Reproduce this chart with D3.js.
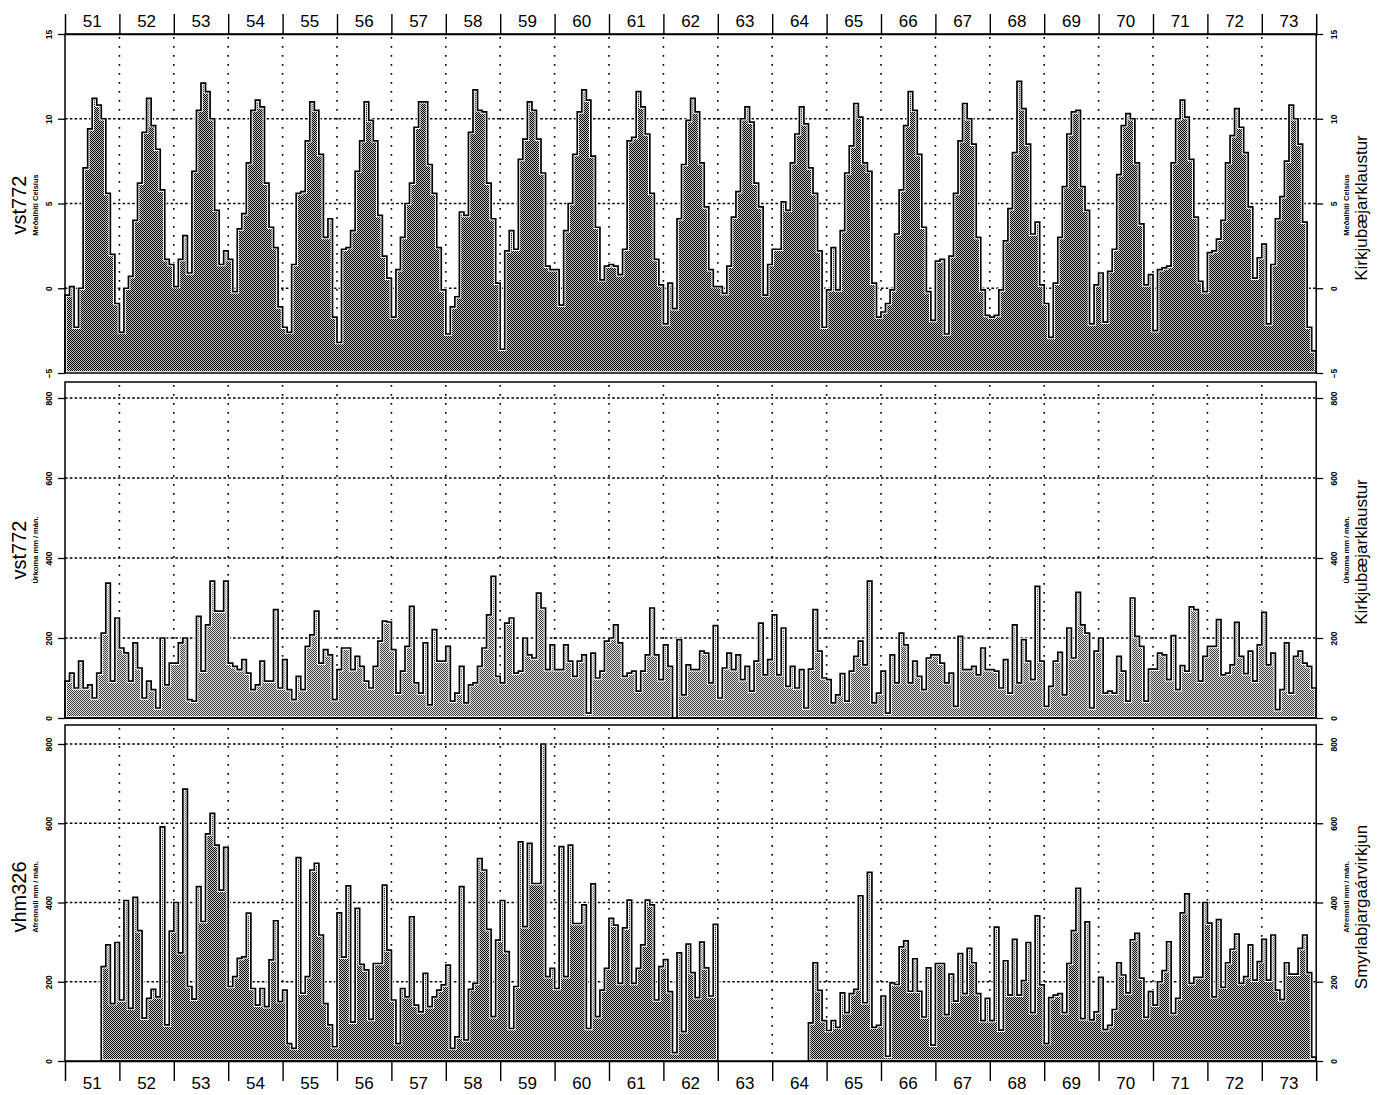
<!DOCTYPE html>
<html>
<head>
<meta charset="utf-8">
<script src="https://cdn.jsdelivr.net/npm/d3@7"></script>
<style>
body { margin: 0; background: #fff; }
svg { display: block; font-family: "Liberation Sans", Arial, Helvetica, sans-serif; }
</style>
</head>
<body>
<div id="chart"></div>
<script>
// year labels, 1951-1973
const yearLabels = d3.range(51, 74).map(String)

// monthly mean temperature, Kirkjubæjarklaustur (vst772), one row per year
const tempByYear = [
  [-0.4, 0.1, -2.3, 0.0, 7.1, 9.4, 11.2, 10.8, 10.0, 5.6, 2.0, -0.9],
  [-2.6, 0.0, 0.7, 4.0, 6.2, 9.2, 11.2, 9.6, 8.2, 5.8, 1.7, 1.4],
  [0.1, 1.7, 3.1, 0.9, 6.9, 10.5, 12.1, 11.6, 10.0, 4.6, 1.4, 2.2],
  [1.7, -0.2, 3.5, 4.4, 7.4, 10.5, 11.1, 10.7, 6.2, 3.6, 2.4, -1.1],
  [-2.3, -2.6, 1.4, 5.6, 5.7, 8.7, 11.0, 10.5, 7.9, 3.0, 4.1, -1.7],
  [-3.2, 2.3, 2.4, 3.4, 6.9, 8.7, 11.0, 9.9, 8.7, 4.3, 1.9, 0.6],
  [-1.7, 1.1, 3.0, 5.0, 6.2, 9.5, 11.0, 11.0, 7.3, 5.6, 2.4, -0.1],
  [-2.7, -1.1, -0.5, 4.5, 4.3, 9.2, 11.7, 10.5, 10.4, 6.2, 4.1, 0.3],
  [-3.6, 2.2, 3.4, 2.3, 7.6, 8.8, 11.0, 10.5, 8.8, 6.8, 1.3, 1.1],
  [1.1, -1.0, 3.4, 5.0, 7.9, 10.4, 11.7, 11.1, 7.8, 3.6, 0.5, 1.3],
  [1.4, 1.3, 0.8, 2.3, 8.7, 8.9, 11.6, 10.7, 9.1, 5.6, 1.7, 0.2],
  [-2.1, 0.3, -1.2, 4.1, 7.3, 9.9, 11.2, 10.4, 7.4, 4.8, 1.1, 0.1],
  [0.1, -0.3, 1.3, 4.2, 5.7, 10.0, 10.7, 9.8, 6.2, 4.8, -0.4, 1.4],
  [2.3, 2.3, 5.1, 4.6, 7.4, 9.1, 10.7, 9.7, 7.1, 5.6, 2.2, -2.3],
  [-0.1, 2.4, -0.1, 3.4, 6.8, 8.4, 10.9, 10.1, 7.4, 6.9, 0.3, -1.7],
  [-1.4, -0.9, -0.1, 3.2, 5.8, 9.6, 11.6, 10.5, 7.9, 3.6, -0.2, -1.9],
  [1.6, 1.7, -2.7, 1.9, 5.6, 8.7, 10.9, 10.0, 8.5, 3.0, -0.1, -1.6],
  [-1.7, -1.6, -0.1, 2.8, 4.7, 8.0, 12.2, 10.6, 8.5, 3.2, 3.9, 0.2],
  [-0.9, -2.9, 0.3, 3.0, 6.0, 9.1, 10.4, 10.5, 6.0, 4.6, -2.1, 0.2],
  [0.9, -2.0, 1.0, 2.3, 6.7, 9.6, 10.3, 10.0, 7.4, 3.8, 0.2, 0.8],
  [-2.5, 1.1, 1.2, 1.3, 7.4, 10.0, 11.1, 10.1, 7.6, 4.2, 0.4, -0.2],
  [2.1, 2.2, 2.9, 4.0, 7.4, 9.0, 10.6, 9.5, 8.0, 4.8, 0.6, 1.8],
  [2.6, -2.1, 1.4, 4.1, 5.4, 7.5, 10.8, 10.0, 8.5, 3.9, -2.3, -3.7]
]

// monthly precipitation mm, Kirkjubæjarklaustur (vst772)
const precipByYear = [
  [92, 112, 75, 142, 75, 83, 50, 112, 212, 337, 92, 250],
  [175, 163, 92, 188, 125, 50, 92, 71, 25, 200, 83, 137],
  [137, 188, 200, 46, 42, 254, 117, 233, 342, 267, 267, 342],
  [137, 129, 121, 146, 112, 71, 83, 142, 92, 92, 271, 75],
  [146, 71, 46, 104, 71, 179, 208, 267, 137, 171, 158, 46],
  [121, 175, 175, 121, 154, 129, 92, 75, 129, 192, 242, 240],
  [171, 62, 117, 179, 279, 88, 62, 188, 33, 221, 142, 142],
  [179, 42, 62, 129, 38, 83, 88, 129, 175, 258, 354, 104],
  [88, 237, 250, 112, 117, 200, 158, 150, 312, 275, 121, 183],
  [121, 121, 183, 142, 104, 142, 158, 12, 162, 100, 117, 192],
  [200, 233, 188, 104, 112, 117, 67, 117, 158, 275, 158, 96],
  [183, 129, 0, 196, 58, 133, 121, 121, 167, 162, 88, 231],
  [50, 125, 162, 121, 158, 96, 129, 67, 142, 237, 108, 146],
  [258, 108, 225, 79, 129, 75, 121, 25, 122, 271, 167, 100],
  [96, 38, 58, 111, 42, 117, 154, 192, 133, 342, 38, 62],
  [117, 12, 158, 88, 212, 183, 88, 142, 104, 71, 150, 158],
  [158, 137, 88, 112, 29, 204, 121, 121, 129, 108, 175, 121],
  [121, 117, 75, 146, 62, 233, 88, 196, 142, 96, 329, 142],
  [29, 79, 142, 164, 58, 225, 150, 314, 233, 212, 25, 167],
  [200, 62, 67, 62, 154, 117, 42, 300, 204, 179, 42, 122],
  [122, 162, 158, 96, 206, 71, 131, 117, 278, 271, 92, 154],
  [179, 179, 246, 108, 112, 133, 239, 154, 111, 167, 92, 183],
  [264, 133, 162, 21, 71, 188, 62, 154, 167, 137, 129, 75]
]

// monthly runoff mm, Smyrlabjargaárvirkjun (vhm326); null = no record
const runoffByYear = [
  [null, null, null, null, null, null, null, null, 238, 293, 145, 299],
  [154, 405, 133, 413, 329, 108, 158, 181, 162, 591, 91, 328],
  [400, 273, 686, 188, 156, 440, 352, 573, 625, 545, 431, 539],
  [188, 213, 259, 263, 373, 183, 141, 183, 137, 255, 354, 150],
  [179, 44, 32, 513, 171, 213, 482, 499, 318, 145, 91, 36],
  [374, 262, 442, 98, 385, 244, 230, 105, 246, 246, 444, 280],
  [154, 44, 183, 162, 364, 141, 124, 221, 137, 162, 179, 192],
  [242, 32, 61, 440, 53, 181, 196, 511, 482, 332, 112, 305],
  [405, 276, 82, 188, 553, 339, 549, 448, 448, 800, 213, 234],
  [183, 541, 213, 545, 347, 347, 394, 82, 447, 112, 179, 234],
  [360, 343, 196, 336, 406, 196, 234, 293, 406, 394, 154, 238],
  [256, 175, 21, 273, 74, 295, 223, 160, 300, 235, 164, 345],
  [null, null, null, null, null, null, null, null, null, null, null, null],
  [null, null, null, null, null, null, null, null, 96, 248, 178, 102],
  [77, 102, 85, 172, 122, 170, 181, 417, 147, 476, 85, 90],
  [164, 12, 197, 193, 288, 303, 176, 258, 176, 111, 235, 40],
  [246, 246, 117, 219, 151, 271, 170, 284, 248, 170, 102, 158],
  [102, 338, 78, 253, 166, 307, 166, 203, 299, 122, 366, 192],
  [44, 160, 166, 170, 122, 246, 329, 436, 107, 351, 104, 124],
  [211, 79, 90, 130, 248, 217, 172, 306, 322, 209, 110, 175],
  [141, 200, 228, 301, 120, 158, 374, 422, 196, 211, 211, 400],
  [348, 162, 357, 186, 248, 282, 320, 196, 213, 293, 204, 251],
  [307, 204, 318, 179, 155, 248, 219, 219, 284, 318, 223, 10]
]

const tempTicks = [-5, 0, 5, 10, 15]
const tempGrid = [0, 5, 10]
const mmTicks = [0, 200, 400, 600, 800]
const mmGrid = [200, 400, 600, 800]

const width = 1383, height = 1095
const nMonths = yearLabels.length * 12
let x = d3.scaleLinear([0, nMonths], [65, 1316.2])

let svg = d3.select("#chart").append("svg")
    .attr("width", width)
    .attr("height", height)

let defs = svg.append("defs")

// halftone-like stipple fill
function stipple(id, dark, light) {
    let p = defs.append("pattern")
        .attr("id", id)
        .attr("patternUnits", "userSpaceOnUse")
        .attr("width", 2).attr("height", 2)
        .attr("shape-rendering", "crispEdges")
    p.append("rect").attr("width", 2).attr("height", 2).attr("fill", light)
    p.append("rect").attr("width", 1).attr("height", 1).attr("fill", dark)
    p.append("rect").attr("x", 1).attr("y", 1).attr("width", 1).attr("height", 1).attr("fill", dark)
}
stipple("dotsTemp", "#000", "#c4c4c4")
stipple("dotsPrec", "#3c3c3c", "#e2e2e2")
stipple("dotsRun", "#0a0a0a", "#cccccc")

const panels = [
    { values: tempByYear.flat(), y: d3.scaleLinear([-5, 15], [373, 34]), top: 34, bottom: 373,
      base: -5, ticks: tempTicks, grid: tempGrid, fill: "url(#dotsTemp)", box: false,
      station: "vst772", unit: "Meðalhiti Celsíus", place: "Kirkjubæjarklaustur", cy: 205, cyR: 208 },
    { values: precipByYear.flat(), y: d3.scaleLinear([0, 800], [718, 398]), top: 382, bottom: 718,
      base: 0, ticks: mmTicks, grid: mmGrid, fill: "url(#dotsPrec)", box: true,
      station: "vst772", unit: "Úrkoma mm / mán.", place: "Kirkjubæjarklaustur", cy: 550, cyR: 552 },
    { values: runoffByYear.flat(), y: d3.scaleLinear([0, 800], [1061, 744]), top: 725, bottom: 1061,
      base: 0, ticks: mmTicks, grid: mmGrid, fill: "url(#dotsRun)", box: true,
      station: "vhm326", unit: "Afrennsli mm / mán.", place: "Smyrlabjargaárvirkjun", cy: 897, cyR: 907 }
]

// split a series into contiguous runs, adding a closing point for the step
function runsOf(values) {
    let runs = [], cur = null
    values.forEach((v, i) => {
        if (v == null) { cur = null; return }
        if (!cur) { cur = []; runs.push(cur) }
        cur.push({ i: i, v: v })
    })
    runs.forEach(r => {
        let last = r[r.length - 1]
        r.push({ i: last.i + 1, v: last.v })
    })
    return runs
}

const yearBounds = d3.range(1, yearLabels.length).map(k => k * 12)

panels.forEach(p => {
    let g = svg.append("g")
    let y = p.y

    // dotted grid
    g.append("g").selectAll("line").data(p.grid).join("line")
        .attr("x1", x(0)).attr("x2", x(nMonths))
        .attr("y1", d => y(d)).attr("y2", d => y(d))
        .attr("stroke", "#000").attr("stroke-width", 1.3)
        .attr("stroke-dasharray", "2.6,2.2")
    g.append("g").selectAll("line").data(yearBounds).join("line")
        .attr("x1", d => x(d)).attr("x2", d => x(d))
        .attr("y1", p.top + 3).attr("y2", p.bottom)
        .attr("stroke", "#000").attr("stroke-width", 1.6)
        .attr("stroke-dasharray", "1.7,7.3")

    // stepped monthly area
    let area = d3.area()
        .x(d => x(d.i))
        .y0(y(p.base))
        .y1(d => y(d.v))
        .curve(d3.curveStepAfter)

    let runs = runsOf(p.values)
    let ag = g.append("g")
    ag.selectAll("path.fill").data(runs).join("path")
        .attr("class", "fill")
        .attr("d", area)
        .attr("fill", p.fill)
    ag.selectAll("path.halo").data(runs).join("path")
        .attr("class", "halo")
        .attr("d", area)
        .attr("fill", "none")
        .attr("stroke", "#fff").attr("stroke-width", 3.6)
    ag.selectAll("path.edge").data(runs).join("path")
        .attr("class", "edge")
        .attr("d", area)
        .attr("fill", "none")
        .attr("stroke", "#000").attr("stroke-width", 1.7)

    // frame
    if (p.box) {
        g.append("rect")
            .attr("x", x(0)).attr("y", p.top)
            .attr("width", x(nMonths) - x(0)).attr("height", p.bottom - p.top)
            .attr("fill", "none").attr("stroke", "#000").attr("stroke-width", 1.5)
    } else {
        g.append("path")
            .attr("d", `M${x(0)},${p.bottom}V${p.top}H${x(nMonths)}V${p.bottom}`)
            .attr("fill", "none").attr("stroke", "#000").attr("stroke-width", 1.5)
    }

    // left / right value axes, labels turned
    let left = g.append("g").attr("transform", `translate(${x(0)},0)`)
        .call(d3.axisLeft(y).tickValues(p.ticks).tickSize(7).tickFormat(d3.format("d")))
    let right = g.append("g").attr("transform", `translate(${x(nMonths)},0)`)
        .call(d3.axisRight(y).tickValues(p.ticks).tickSize(7).tickFormat(d3.format("d")))
    ;[left, right].forEach(a => {
        a.select(".domain").remove()
        a.selectAll("line").attr("stroke-width", 1.3)
        a.selectAll("text")
            .attr("font-size", 8.5).attr("font-weight", "bold")
            .attr("text-anchor", "middle").attr("dy", 0)
    })
    left.selectAll("text").attr("x", null).attr("transform", "translate(-13,0) rotate(-90)")
    right.selectAll("text").attr("x", null).attr("transform", "translate(21,0) rotate(-90)")

    // titles
    let title = (tx, ty, txt, size, bold) => svg.append("text")
        .attr("transform", `translate(${tx},${ty}) rotate(-90)`)
        .attr("text-anchor", "middle")
        .attr("font-size", size)
        .attr("font-weight", bold ? "bold" : "normal")
        .text(txt)
    title(26, p.cy, p.station, 20, false)
    title(38, p.cy, p.unit, 7.5, true)
    title(1349, p.cy, p.unit, 7.5, true)
    title(1367, p.cyR, p.place, 17, false)
})

// year axes, top and bottom
let topAxis = svg.append("g").attr("transform", "translate(0,34)")
    .call(d3.axisTop(x).tickValues(yearBounds).tickSize(20).tickFormat(""))
let botAxis = svg.append("g").attr("transform", "translate(0,1061)")
    .call(d3.axisBottom(x).tickValues(yearBounds).tickSize(20).tickFormat(""))
;[topAxis, botAxis].forEach(a => {
    a.select(".domain").attr("stroke-width", 1.5)
    a.selectAll("line").attr("stroke-width", 1.4)
})

svg.append("g").selectAll("text").data(yearLabels).join("text")
    .attr("x", (d, i) => x(i * 12 + 6))
    .attr("y", 27)
    .attr("text-anchor", "middle")
    .attr("font-size", 17)
    .text(d => d)
svg.append("g").selectAll("text").data(yearLabels).join("text")
    .attr("x", (d, i) => x(i * 12 + 6))
    .attr("y", 1089)
    .attr("text-anchor", "middle")
    .attr("font-size", 17)
    .text(d => d)
</script>
</body>
</html>
